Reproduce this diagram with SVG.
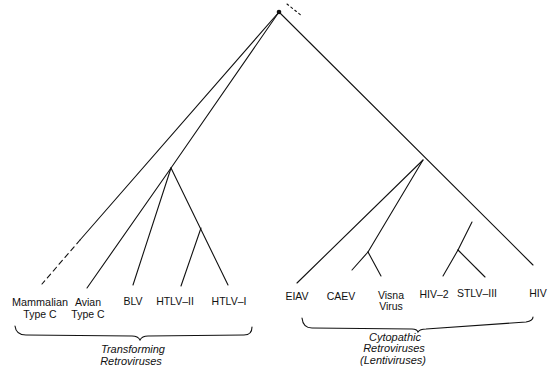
<svg xmlns="http://www.w3.org/2000/svg" width="554" height="380" viewBox="0 0 554 380">
<style>
.e{fill:none;stroke:#111;stroke-width:1.1;stroke-linecap:round}
.d{stroke-dasharray:5,4}
.t{font-family:"Liberation Sans",Arial,sans-serif;font-size:10.5px;fill:#111}
.i{font-style:italic;font-size:11px}
</style>
<rect width="554" height="380" fill="#fff"/>
<g id="connectors">
<path class="e" d="M279,12 L80,240"/>
<path class="e d" d="M80,240 L42,284"/>
<path class="e" d="M279,12 L171,168"/>
<path class="e" d="M171,168 L87,288"/>
<path class="e" d="M171,168 L133,285"/>
<path class="e" d="M171,168 L228,285"/>
<path class="e" d="M201,228 L181,286"/>
<path class="e" d="M279,12 L533,265"/>
<path class="e" d="M423,160 L297,283"/>
<path class="e" d="M423,160 L368,252"/>
<path class="e" d="M368,252 L352,270"/>
<path class="e" d="M368,252 L381,276"/>
<path class="e" d="M472,222 L458,250"/>
<path class="e" d="M458,250 L443,276"/>
<path class="e" d="M458,250 L485,277"/>
<path class="e" d="M287,4 L302,16" stroke-dasharray="2,3"/>
</g>
<g id="root"><circle cx="279" cy="12" r="2.3" fill="#111"/></g>
<g id="n-mammalian"><text class="t" x="40" y="306" text-anchor="middle" textLength="56" lengthAdjust="spacingAndGlyphs">Mammalian</text><text class="t" x="40" y="318" text-anchor="middle">Type C</text></g>
<g id="n-avian"><text class="t" x="88" y="306" text-anchor="middle">Avian</text><text class="t" x="88" y="318" text-anchor="middle">Type C</text></g>
<g id="n-blv"><text class="t" x="133" y="305" text-anchor="middle">BLV</text></g>
<g id="n-htlv2"><text class="t" x="175" y="305" text-anchor="middle">HTLV–II</text></g>
<g id="n-htlv1"><text class="t" x="229" y="305" text-anchor="middle">HTLV–I</text></g>
<g id="n-eiav"><text class="t" x="297" y="300" text-anchor="middle">EIAV</text></g>
<g id="n-caev"><text class="t" x="341" y="300" text-anchor="middle">CAEV</text></g>
<g id="n-visna"><text class="t" x="391" y="299" text-anchor="middle">Visna</text><text class="t" x="391" y="310" text-anchor="middle">Virus</text></g>
<g id="n-hiv2"><text class="t" x="434" y="298" text-anchor="middle">HIV–2</text></g>
<g id="n-stlv3"><text class="t" x="477" y="297" text-anchor="middle">STLV–III</text></g>
<g id="n-hiv"><text class="t" x="538" y="297" text-anchor="middle">HIV</text></g>
<g id="g-transforming">
<path class="e" d="M15,326 Q16,335 26,335 L132,336 Q138,336 140,340 Q142,336 148,336 L244,335 Q252,335 252,327"/>
<text class="t i" x="133" y="353" text-anchor="middle">Transforming</text>
<text class="t i" x="131" y="365" text-anchor="middle">Retroviruses</text>
</g>
<g id="g-cytopathic">
<path class="e" d="M302,318 Q303,328 312,328 L412,329 Q417,329 418,332 Q420,329 426,329 L526,322 Q533,321 533,317"/>
<text class="t i" x="395" y="341" text-anchor="middle">Cytopathic</text>
<text class="t i" x="394" y="352" text-anchor="middle">Retroviruses</text>
<text class="t i" x="393" y="364" text-anchor="middle">(Lentiviruses)</text>
</g>
</svg>
